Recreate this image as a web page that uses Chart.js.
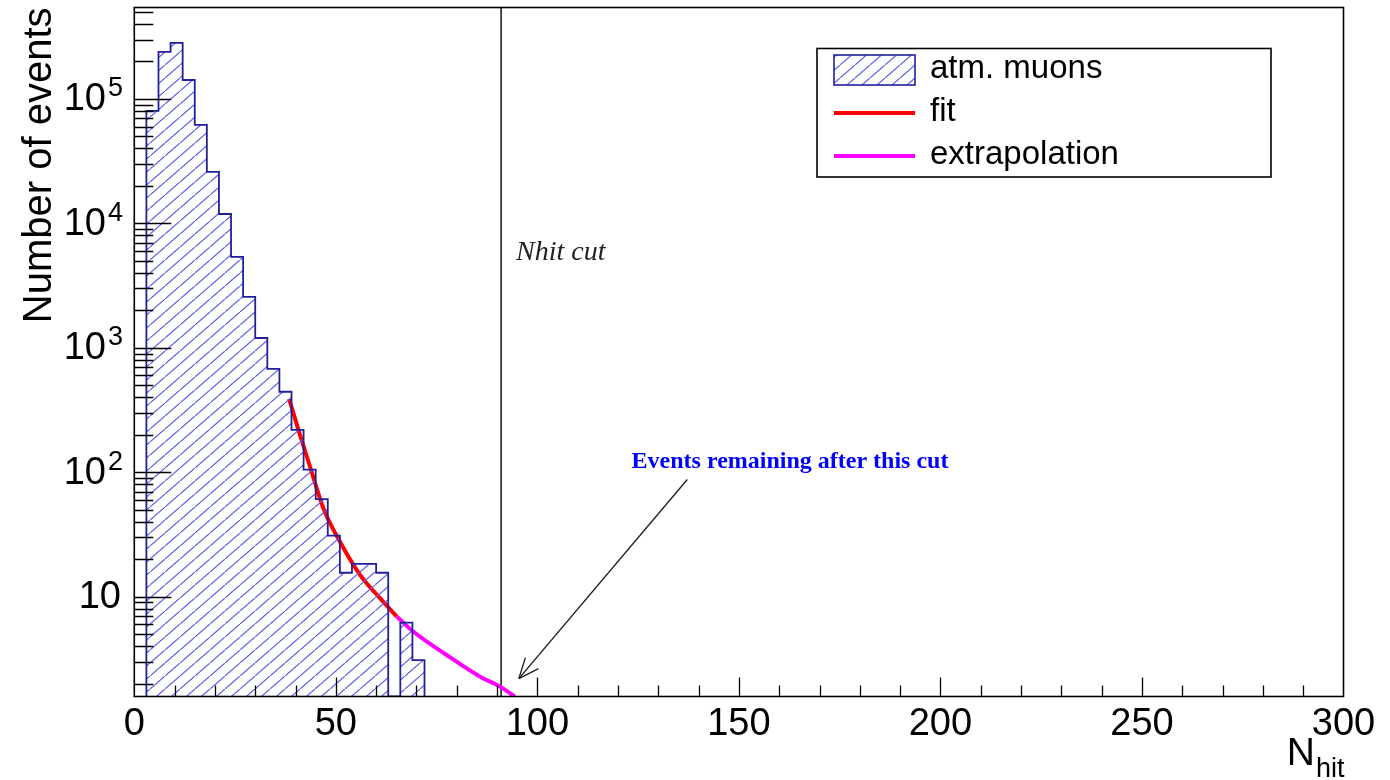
<!DOCTYPE html>
<html>
<head>
<meta charset="utf-8">
<title>Nhit distribution</title>
<script src="https://cdn.jsdelivr.net/npm/chart.js@4.4.1/dist/chart.umd.min.js"></script>
<style>
  html, body { margin: 0; padding: 0; background: #fff; }
  #wrap { width: 1390px; height: 780px; }
</style>
</head>
<body>
<div id="wrap"><canvas id="chart" width="1390" height="780"></canvas></div>
<script>
// histogram: bin edges in N_hit (width 3) and event counts
const binEdges = [3, 6, 9, 12, 15, 18, 21, 24, 27, 30, 33, 36, 39, 42, 45, 48, 51, 54, 57, 60, 63, 66, 69, 72];
const binCounts = [80100, 238700, 282000, 142000, 61800, 25900, 11900, 5380, 2570, 1200, 678, 444,
                   219, 105, 61, 31, 15.6, 18.4, 18.4, 15.6, 0, 6.2, 3.1];

// fit curve and its extrapolation beyond the last fitted bin
const fitX = [38.4, 41.1, 44.0, 46.9, 51.0, 56.0, 60.9, 65.1];
const fitY = [389, 200, 101, 51.5, 27.8, 15.0, 9.8, 6.95];
const extrapX = [65.1, 69.2, 77.4, 85.7, 90.7, 94.4];
const extrapY = [6.95, 5.26, 3.42, 2.29, 1.90, 1.58];

// cut line and arrow (data coordinates)
const cutX = 91;
const arrowFrom = [137.2, 87.5];
const arrowTo = [95.4, 2.2];

// axes
const xRange = [0, 300];
const yRange = [1.58, 5.43e5];
const xTicks = [0, 50, 100, 150, 200, 250, 300];
const yDecades = [10, 100, 1000, 10000, 100000];
const yExponents = ['', '2', '3', '4', '5'];

const seriesNames = ['atm. muons', 'fit', 'extrapolation'];

const SANS = "'Liberation Sans', Arial, sans-serif";
const SERIF = "'Liberation Serif', 'Times New Roman', serif";
const HIST_LINE = '#20209a';
const HIST_HATCH = '#5c5cee';

function hatchPattern() {
  const w = 15, h = 13;
  const c = document.createElement('canvas');
  c.width = w; c.height = h;
  const g = c.getContext('2d');
  g.strokeStyle = HIST_HATCH;
  g.lineWidth = 1.2;
  g.beginPath();
  g.moveTo(-w, 2 * h); g.lineTo(2 * w, -h);
  g.stroke();
  return g.createPattern(c, 'repeat');
}
const hatch = hatchPattern();

// step outline: start on the floor, one point per bin left edge, back to the floor
const histPoints = [{x: binEdges[0], y: yRange[0]}];
binCounts.forEach((c, i) => histPoints.push({x: binEdges[i], y: c > 0 ? c : yRange[0]}));
histPoints.push({x: binEdges[binEdges.length - 1], y: yRange[0]});

const toXY = (xs, ys) => xs.map((x, i) => ({x: x, y: ys[i]}));

const rootStyle = {
  id: 'rootStyle',
  afterDatasetsDraw(chart) {
    const {ctx, chartArea: a, scales: {x, y}} = chart;
    ctx.save();

    // frame
    ctx.strokeStyle = '#000';
    ctx.lineWidth = 1.6;
    ctx.strokeRect(a.left, a.top, a.width, a.height);

    // x ticks, drawn inward
    ctx.lineWidth = 1.3;
    ctx.beginPath();
    for (let v = xRange[0] + 10; v < xRange[1]; v += 10) {
      const px = Math.round(x.getPixelForValue(v)) + 0.5;
      const len = v % 50 === 0 ? 19 : 11;
      ctx.moveTo(px, a.bottom);
      ctx.lineTo(px, a.bottom - len);
    }
    // y ticks (log), decades long, 2..9 short
    for (let d = 1; d <= 1e5; d *= 10) {
      for (let m = 1; m <= 9; m++) {
        const v = m * d;
        if (v < yRange[0] || v > yRange[1]) continue;
        const py = Math.round(y.getPixelForValue(v)) + 0.5;
        ctx.moveTo(a.left, py);
        ctx.lineTo(a.left + (m === 1 ? 37 : 19), py);
      }
    }
    ctx.stroke();

    // y tick labels 10, 10^2 ... 10^5
    ctx.fillStyle = '#000';
    ctx.textBaseline = 'middle';
    yDecades.forEach((v, i) => {
      const py = y.getPixelForValue(v);
      ctx.textAlign = 'right';
      if (!yExponents[i]) {
        ctx.font = '38px ' + SANS;
        ctx.fillText('10', 121, py + 1);
      } else {
        ctx.font = '27px ' + SANS;
        ctx.fillText(yExponents[i], 123, py - 10);
        ctx.font = '38px ' + SANS;
        ctx.fillText('10', 106, py + 1);
      }
    });

    // y title, right-aligned to the top of the frame
    ctx.save();
    ctx.translate(51, a.top);
    ctx.rotate(-Math.PI / 2);
    ctx.font = '40px ' + SANS;
    ctx.textAlign = 'right';
    ctx.textBaseline = 'alphabetic';
    ctx.fillText('Number of events', 0, 0);
    ctx.restore();

    // x title N_hit
    ctx.textBaseline = 'alphabetic';
    ctx.textAlign = 'right';
    ctx.font = '27px ' + SANS;
    ctx.fillText('hit', a.right + 1, 777);
    const subW = ctx.measureText('hit').width;
    ctx.font = '39px ' + SANS;
    ctx.fillText('N', a.right - subW, 765);

    // annotations
    const cx = x.getPixelForValue(cutX);
    ctx.textAlign = 'left';
    ctx.font = 'italic 28px ' + SERIF;
    ctx.fillStyle = '#222';
    ctx.fillText('Nhit cut', cx + 15, 260);

    ctx.textAlign = 'center';
    ctx.font = 'bold 24px ' + SERIF;
    ctx.fillStyle = '#0000ff';
    ctx.fillText('Events remaining after this cut', 790, 468);

    // arrow head at the arrow tip
    const tx = x.getPixelForValue(arrowTo[0]), ty = y.getPixelForValue(arrowTo[1]);
    const fx = x.getPixelForValue(arrowFrom[0]), fy = y.getPixelForValue(arrowFrom[1]);
    const ang = Math.atan2(fy - ty, fx - tx);
    ctx.strokeStyle = '#222';
    ctx.lineWidth = 1.4;
    ctx.beginPath();
    [-0.4, 0.4].forEach(da => {
      ctx.moveTo(tx, ty);
      ctx.lineTo(tx + 22 * Math.cos(ang + da), ty + 22 * Math.sin(ang + da));
    });
    ctx.stroke();

    // legend box
    const L = {left: 817, top: 48.5, right: 1271, bottom: 177};
    ctx.fillStyle = '#fff';
    ctx.fillRect(L.left, L.top, L.right - L.left, L.bottom - L.top);
    ctx.strokeStyle = '#000';
    ctx.lineWidth = 1.6;
    ctx.strokeRect(L.left, L.top, L.right - L.left, L.bottom - L.top);
    const rows = [70, 113, 156];
    const ds = chart.data.datasets;
    // hatched swatch
    ctx.fillStyle = hatch;
    ctx.fillRect(834, 55, 81, 30);
    ctx.strokeStyle = HIST_LINE;
    ctx.lineWidth = 1.6;
    ctx.strokeRect(834, 55, 81, 30);
    [1, 2].forEach(k => {
      ctx.strokeStyle = ds[k].borderColor;
      ctx.lineWidth = ds[k].borderWidth;
      ctx.beginPath();
      ctx.moveTo(834, rows[k]);
      ctx.lineTo(915, rows[k]);
      ctx.stroke();
    });
    ctx.fillStyle = '#000';
    ctx.font = '33px ' + SANS;
    ctx.textAlign = 'left';
    ctx.textBaseline = 'alphabetic';
    seriesNames.forEach((n, k) => ctx.fillText(n, 930, rows[k] + 8));

    ctx.restore();
  }
};

new Chart(document.getElementById('chart'), {
  type: 'line',
  data: {
    datasets: [
      {
        label: seriesNames[0],
        data: histPoints,
        stepped: true,
        borderColor: HIST_LINE,
        borderWidth: 1.8,
        backgroundColor: hatch,
        fill: 'start',
        pointRadius: 0
      },
      {
        label: seriesNames[1],
        data: toXY(fitX, fitY),
        borderColor: '#ff0000',
        borderWidth: 4,
        cubicInterpolationMode: 'monotone',
        pointRadius: 0,
        fill: false
      },
      {
        label: seriesNames[2],
        data: toXY(extrapX, extrapY),
        borderColor: '#ff00ff',
        borderWidth: 4,
        cubicInterpolationMode: 'monotone',
        pointRadius: 0,
        fill: false
      },
      {
        label: 'cut',
        data: [{x: cutX, y: yRange[0]}, {x: cutX, y: yRange[1]}],
        borderColor: '#000',
        borderWidth: 1.4,
        pointRadius: 0,
        fill: false
      },
      {
        label: 'arrow',
        data: [{x: arrowFrom[0], y: arrowFrom[1]}, {x: arrowTo[0], y: arrowTo[1]}],
        borderColor: '#222',
        borderWidth: 1.4,
        pointRadius: 0,
        fill: false
      }
    ]
  },
  options: {
    responsive: false,
    animation: false,
    devicePixelRatio: 1,
    layout: { padding: { left: 0, top: 7.5, right: 46.5, bottom: 0 } },
    plugins: {
      legend: { display: false },
      tooltip: { enabled: false }
    },
    scales: {
      x: {
        type: 'linear',
        min: xRange[0],
        max: xRange[1],
        afterFit: s => { s.height = 83.5; },
        afterBuildTicks: s => { s.ticks = xTicks.map(v => ({value: v})); },
        grid: { display: false },
        border: { display: false },
        ticks: {
          autoSkip: false,
          maxRotation: 0,
          padding: -3,
          color: '#000',
          font: { family: SANS, size: 38 }
        }
      },
      y: {
        type: 'logarithmic',
        min: yRange[0],
        max: yRange[1],
        bounds: 'data',
        afterFit: s => { s.width = 134.3; },
        grid: { display: false },
        border: { display: false },
        ticks: { display: false }
      }
    }
  },
  plugins: [rootStyle]
});
</script>
</body>
</html>
